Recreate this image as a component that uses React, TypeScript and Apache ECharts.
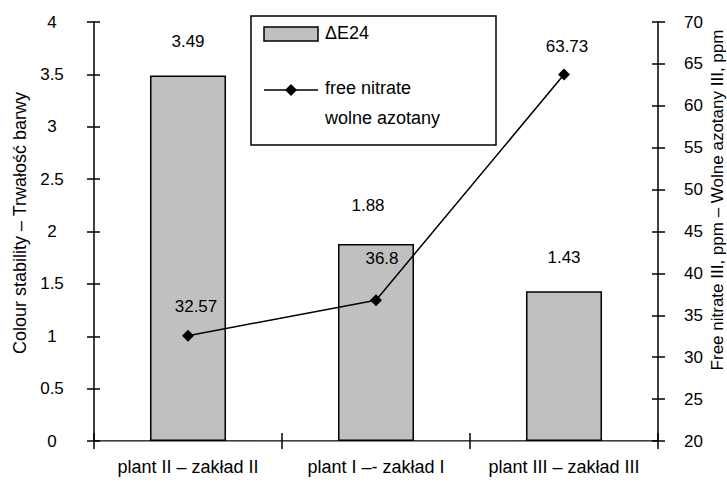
import React, { useEffect, useRef } from "react";
import * as echarts from "echarts";

const categories = ["plant II – zakład II", "plant I –- zakład I", "plant III – zakład III"];
const colourStability = [3.49, 1.88, 1.43];
const freeNitrate = [32.57, 36.8, 63.73];
const leftTitle = "Colour stability – Trwałość barwy";
const rightTitle = "Free nitrate III, ppm – Wolne azotany III, ppm";
const barName = "ΔE24";
const lineName1 = "free nitrate";
const lineName2 = "wolne azotany";

export default function App() {
  const ref = useRef<HTMLDivElement>(null);
  useEffect(() => {
    if (!ref.current) return;
    const chart = echarts.init(ref.current, null, { renderer: "svg" });
    const font = "'Liberation Sans', Arial, sans-serif";
    const fs = 17;
    const barOffsets = [[0, -25], [-8, -30], [0, -25]];
    const lineOffsets = [[8, -15], [6, -27], [3, -14]];
    const axisCommon = {
      axisLine: { show: true, lineStyle: { color: "#000", width: 1.5 } },
      axisTick: { show: true, length: 7, lineStyle: { color: "#000", width: 1.5 } },
      splitLine: { show: false },
    };
    const innerTicks = {
      axisLine: { show: false },
      axisTick: { show: true, inside: true, length: 6, lineStyle: { color: "#000", width: 1.5 } },
      axisLabel: { show: false },
      splitLine: { show: false },
    };
    chart.setOption({
      animation: false,
      textStyle: { fontFamily: font },
      grid: { left: 94, right: 69, top: 22, bottom: 46 },
      xAxis: [
        {
          type: "category",
          data: categories,
          ...axisCommon,
          axisTick: { show: true, length: 8, lineStyle: { color: "#000", width: 1.5 } },
          axisLabel: { color: "#000", fontSize: 18, margin: 17, interval: 0, fontFamily: font },
        },
        {
          type: "category",
          position: "top",
          data: categories,
          axisLine: { show: true, lineStyle: { color: "#888", width: 1 } },
          axisTick: { show: false },
          axisLabel: { show: false },
        },
        {
          type: "category",
          position: "bottom",
          data: categories,
          ...innerTicks,
          axisTick: { show: true, inside: true, length: 8, lineStyle: { color: "#000", width: 1.5 } },
        },
      ],
      yAxis: [
        {
          type: "value",
          position: "left",
          min: 0,
          max: 4,
          interval: 0.5,
          ...axisCommon,
          axisLabel: { color: "#000", fontSize: fs, align: "center", margin: 42, fontFamily: font },
        },
        {
          type: "value",
          position: "right",
          min: 20,
          max: 70,
          interval: 5,
          ...axisCommon,
          axisLabel: { color: "#000", fontSize: fs, margin: 26, fontFamily: font },
        },
        { type: "value", position: "left", min: 0, max: 4, interval: 0.5, ...innerTicks },
        { type: "value", position: "right", min: 20, max: 70, interval: 5, ...innerTicks },
      ],
      series: [
        {
          type: "bar",
          name: barName,
          xAxisIndex: 0,
          yAxisIndex: 0,
          barWidth: 76,
          itemStyle: { color: "#c0c0c0", borderColor: "#000", borderWidth: 1.5 },
          label: { show: true, position: "top", distance: 0, color: "#000", fontSize: fs, fontFamily: font },
          data: colourStability.map((v, i) => ({ value: v, label: { offset: barOffsets[i] } })),
        },
        {
          type: "line",
          name: lineName1,
          xAxisIndex: 0,
          yAxisIndex: 1,
          symbol: "diamond",
          symbolSize: 12,
          lineStyle: { color: "#000", width: 1.5 },
          itemStyle: { color: "#000" },
          label: { show: true, position: "top", distance: 0, color: "#000", fontSize: fs, fontFamily: font },
          data: freeNitrate.map((v, i) => ({ value: v, label: { offset: lineOffsets[i] } })),
        },
      ],
      graphic: [
        {
          type: "text",
          x: 20,
          y: 223,
          rotation: Math.PI / 2,
          style: { text: leftTitle, fill: "#000", font: `18px ${font}`, align: "center", verticalAlign: "middle" },
        },
        {
          type: "text",
          x: 717,
          y: 200,
          rotation: Math.PI / 2,
          style: { text: rightTitle, fill: "#000", font: `${fs}px ${font}`, align: "center", verticalAlign: "middle" },
        },
        {
          type: "rect",
          shape: { x: 251, y: 16, width: 245, height: 129 },
          style: { fill: "#fff", stroke: "#000", lineWidth: 1.5 },
          z: 100,
        },
        {
          type: "rect",
          shape: { x: 264, y: 27, width: 54, height: 14 },
          style: { fill: "#c0c0c0", stroke: "#000", lineWidth: 1.5 },
          z: 101,
        },
        {
          type: "text",
          x: 325,
          y: 33,
          style: { text: barName, fill: "#000", font: `18px ${font}`, verticalAlign: "middle" },
          z: 101,
        },
        {
          type: "line",
          shape: { x1: 264, y1: 90, x2: 318, y2: 90 },
          style: { stroke: "#000", lineWidth: 1.5 },
          z: 101,
        },
        {
          type: "polygon",
          shape: { points: [[291, 84], [297, 90], [291, 96], [285, 90]] },
          style: { fill: "#000" },
          z: 102,
        },
        {
          type: "text",
          x: 325,
          y: 88,
          style: { text: lineName1, fill: "#000", font: `18px ${font}`, verticalAlign: "middle" },
          z: 101,
        },
        {
          type: "text",
          x: 325,
          y: 118,
          style: { text: lineName2, fill: "#000", font: `18px ${font}`, verticalAlign: "middle" },
          z: 101,
        },
      ],
    });
    return () => chart.dispose();
  }, []);
  return <div ref={ref} style={{ width: 727, height: 487, position: "absolute", left: 0, top: 0 }} />;
}
